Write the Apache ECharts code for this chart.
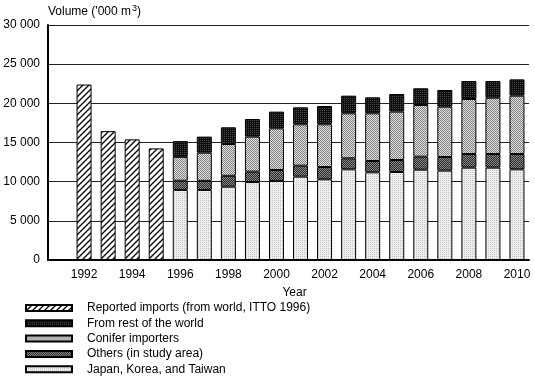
<!DOCTYPE html>
<html><head><meta charset="utf-8">
<script src="https://cdn.jsdelivr.net/npm/echarts@6/dist/echarts.min.js"></script>
<style>html,body{margin:0;padding:0;background:#fff}#c{width:535px;height:380px}</style>
</head><body><div id="c"></div>
<script>
const years = ['1991','1992','1993','1994','1995','1996','1997','1998','1999','2000','2001','2002','2003','2004','2005','2006','2007','2008','2009','2010'];
const reported = [null,22400,16450,15400,14250,null,null,null,null,null,null,null,null,null,null,null,null,null,null,null];
const japan   = [null,null,null,null,null,8950,8940,9360,9950,10090,10640,10300,11580,11190,11240,11530,11410,11790,11790,11580];
const others  = [null,null,null,null,null,1170,1160,1390,1330,1400,1400,1570,1400,1450,1530,1660,1740,1740,1740,1950];
const conifer = [null,null,null,null,null,3050,3600,4060,4470,5320,5280,5450,5750,6090,6170,6600,6420,7020,7190,7450];
const rest    = [null,null,null,null,null,2010,2050,2130,2250,2130,2170,2340,2250,2040,2250,2130,2130,2300,2130,2080];
const yTicks = [0,5000,10000,15000,20000,25000,30000];
const seriesNames = ['Reported imports (from world, ITTO 1996)','From rest of the world','Conifer importers','Others (in study area)','Japan, Korea, and Taiwan'];

function hatch(){
  const s=6,c=document.createElement('canvas');c.width=c.height=s;
  const g=c.getContext('2d');g.fillStyle='#fff';g.fillRect(0,0,s,s);
  g.strokeStyle='#000';g.lineWidth=1.3;g.beginPath();
  g.moveTo(-1,s+1);g.lineTo(s+1,-1);
  g.moveTo(-s/2-1,s/2+1);g.lineTo(s/2+1,-s/2-1);
  g.moveTo(s/2-1,s+s/2+1);g.lineTo(s+s/2+1,s/2-1);
  g.stroke();return c;
}
function stipple(bg,fg,mask){
  const n=mask.length,c=document.createElement('canvas');c.width=c.height=n;
  const g=c.getContext('2d');g.fillStyle=bg;g.fillRect(0,0,n,n);g.fillStyle=fg;
  for(let y=0;y<n;y++)for(let x=0;x<n;x++)if(mask[y][x])g.fillRect(x,y,1,1);
  return c;
}
const checker=[[1,0],[0,1]];
const dots=[[1,0],[0,0]];
const pat = img => ({image: img, repeat: 'repeat'});
const fHatch = pat(hatch());
const fJapan = pat(stipple('#efefef','#c4c4c4',dots));
const fOthers = pat(stipple('#2a2a2a','#8a8a8a',checker));
const fConifer = pat(stipple('#e2e2e2','#808080',checker));
const fRest = pat(stipple('#0e0e0e','#4a4a4a',dots));

const chart = echarts.init(document.getElementById('c'), null, {renderer:'canvas'});
const font = 'Liberation Sans, Arial, Helvetica, sans-serif';
function bar(name, data, fill, stack){
  const s = {name, type:'bar', data, barWidth:15, itemStyle:{color:fill, borderColor:'#000', borderWidth:1}, emphasis:{disabled:true}, animation:false};
  if(stack) s.stack = stack;
  return s;
}
chart.setOption({
  animation:false,
  textStyle:{fontFamily:font},
  grid:{left:48, right:6, top:25, bottom:120, containLabel:false},
  legend:{
    orient:'vertical', left:20, top:297, height:100, itemWidth:46, itemHeight:6, itemGap:3.3,
    textStyle:{fontFamily:font, fontSize:12, color:'#000', padding:[0,0,0,10]},
    data: seriesNames.map(n=>({name:n, icon:'rect'})),
    selectedMode:false
  },
  xAxis:{
    type:'category', data: years, boundaryGap:true,
    name:'Year', nameLocation:'middle', nameGap:27,
    nameTextStyle:{fontFamily:font, fontSize:12, color:'#000', padding:[0,0,0,12]},
    axisLine:{lineStyle:{color:'#000', width:2}},
    axisTick:{show:false},
    axisLabel:{interval:(i,v)=>Number(v)%2===0, fontFamily:font, fontSize:12, color:'#000', margin:9}
  },
  yAxis:{
    type:'value', min:yTicks[0], max:yTicks[yTicks.length-1], interval:5000,
    name:"{a|Volume ('000 m}{s|3}{a|)}", nameLocation:'end', nameGap:6,
    nameTextStyle:{align:'left', padding:[0,0,0,0], rich:{a:{fontFamily:font,fontSize:12,color:'#000'}, s:{fontFamily:font,fontSize:9,color:'#000',verticalAlign:'top', padding:[0,0,6,1]}}},
    axisLine:{show:true, lineStyle:{color:'#000', width:2}},
    axisTick:{show:false},
    splitLine:{lineStyle:{color:'#222', width:1}},
    axisLabel:{fontFamily:font, fontSize:12, color:'#000', margin:8, formatter:v=>String(v).replace(/\B(?=(\d{3})+(?!\d))/g,' ')}
  },
  series:[
    bar(seriesNames[0], reported, fHatch, 'a'),
    bar(seriesNames[4], japan, fJapan, 'a'),
    bar(seriesNames[3], others, fOthers, 'a'),
    bar(seriesNames[2], conifer, fConifer, 'a'),
    bar(seriesNames[1], rest, fRest, 'a')
  ]
});
</script></body></html>
